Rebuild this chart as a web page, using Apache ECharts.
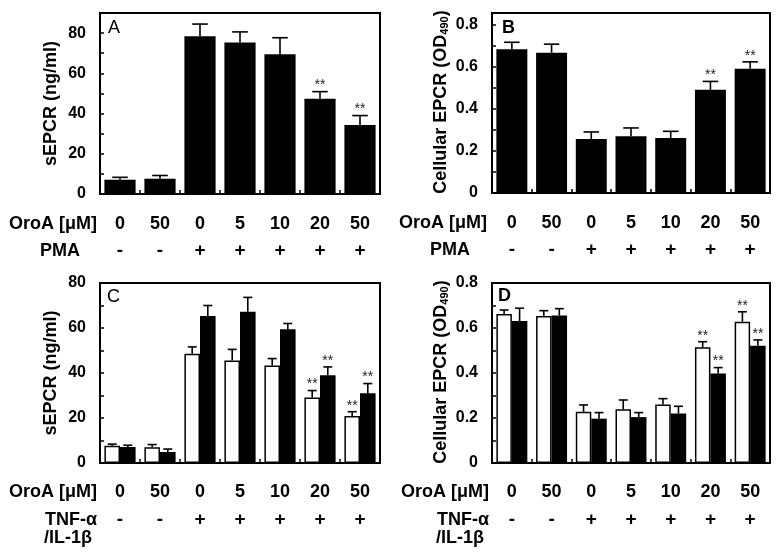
<!DOCTYPE html>
<html>
<head>
<meta charset="utf-8">
<script src="https://cdn.jsdelivr.net/npm/echarts@6/dist/echarts.min.js"></script>
<style>html,body{margin:0;padding:0;background:#fff;}#c{width:783px;height:559px;}</style>
</head>
<body>
<div id="c"></div>
<script>
// ---- data ----
const oroaLabels = ['0', '50', '0', '5', '10', '20', '50'];
const stimLabels = ['-', '-', '+', '+', '+', '+', '+'];

// Panel A: sEPCR (ng/ml), PMA
const aValues = [7.1, 7.6, 78.5, 75.3, 69.5, 47.3, 34.3];
const aErrors = [1.2, 1.6, 6.0, 5.3, 8.2, 3.6, 4.7];
const aSig = ['', '', '', '', '', '**', '**'];

// Panel B: Cellular EPCR (OD490), PMA
const bValues = [0.683, 0.666, 0.256, 0.269, 0.261, 0.490, 0.590];
const bErrors = [0.033, 0.041, 0.034, 0.040, 0.032, 0.040, 0.033];
const bSig = ['', '', '', '', '', '**', '**'];

// Panel C: sEPCR (ng/ml), TNF-α / IL-1β
const cWhite = [7.7, 7.0, 48.6, 45.6, 43.3, 29.1, 20.9];
const cWhiteErr = [0.7, 1.2, 3.0, 4.9, 3.1, 3.1, 1.9];
const cWhiteSig = ['', '', '', '', '', '**', '**'];
const cBlack = [7.1, 4.9, 65.3, 67.2, 59.4, 39.0, 31.0];
const cBlackErr = [0.8, 1.3, 4.7, 6.4, 2.6, 3.7, 4.3];
const cBlackSig = ['', '', '', '', '', '**', '**'];

// Panel D: Cellular EPCR (OD490), TNF-α / IL-1β
const dWhite = [0.662, 0.653, 0.228, 0.239, 0.260, 0.514, 0.628];
const dWhiteErr = [0.018, 0.024, 0.030, 0.041, 0.026, 0.025, 0.044];
const dWhiteSig = ['', '', '', '', '', '**', '**'];
const dBlack = [0.631, 0.656, 0.197, 0.204, 0.220, 0.398, 0.521];
const dBlackErr = [0.057, 0.030, 0.027, 0.020, 0.032, 0.026, 0.026];
const dBlackSig = ['', '', '', '', '', '**', '**'];

// ---- chart ----
const FONT = '"Liberation Sans", Arial, Helvetica, sans-serif';
const grids = [], xAxes = [], yAxes = [], series = [], graphics = [];
const txt = (size, bold) => ({ fontFamily: FONT, fontSize: size, fontWeight: bold ? 'bold' : 'normal', color: '#000' });

function fmtInt(v) { return (Math.abs(v % 20) < 1e-6 && v <= 80) ? String(v) : ''; }
function fmtDec(v) {
  const k = Math.round(v * 10);
  if (Math.abs(v * 10 - k) > 1e-6 || k % 2 !== 0 || k > 8) return '';
  return k === 0 ? '0' : (k / 10).toFixed(1);
}

function makeErr(i, n, sigs) {
  return function (params, api) {
    const k = api.value(0), v = api.value(1), e = api.value(2);
    const base = api.coord([k, v]);
    const cap = api.coord([k, v + e]);
    const band = api.size([1, 0])[0];
    const total = band * 0.78;
    const bw = total / n;
    const cx = base[0] - total / 2 + bw * (i + 0.5);
    const hw = Math.max(4.5, bw * 0.25);
    const st = { stroke: '#000', lineWidth: 1.6 };
    const children = [
      { type: 'line', shape: { x1: cx, y1: base[1], x2: cx, y2: cap[1] }, style: st },
      { type: 'line', shape: { x1: cx - hw, y1: cap[1], x2: cx + hw, y2: cap[1] }, style: st }
    ];
    const s = sigs[params.dataIndex];
    if (s) {
      children.push({ type: 'text', x: cx, y: cap[1] - 6,
        style: { text: s, align: 'center', verticalAlign: 'middle', font: '14px ' + FONT, fill: '#222' } });
    }
    return { type: 'group', children: children };
  };
}

function addPanel(cfg) {
  const g = grids.length;
  grids.push({ left: cfg.rect[0], top: cfg.rect[1], width: cfg.rect[2], height: cfg.rect[3],
    show: true, borderColor: '#000', borderWidth: 2, backgroundColor: 'transparent',
    containLabel: false, outerBoundsMode: 'none' });
  const fx = xAxes.length;
  // frame axis
  xAxes.push({ type: 'category', gridIndex: g, data: oroaLabels, position: 'bottom',
    axisLine: { show: true, onZero: false, lineStyle: { color: '#000', width: 2 } },
    axisTick: { show: true, inside: true, length: 4, interval: 0, lineStyle: { color: '#000', width: 1.5 } },
    axisLabel: { show: false }, splitLine: { show: false } });
  // OroA row
  xAxes.push({ type: 'category', gridIndex: g, data: oroaLabels, position: 'bottom', offset: cfg.row1,
    axisLine: { show: false, onZero: false }, axisTick: { show: false },
    axisLabel: Object.assign({ interval: 0, margin: 0, verticalAlign: 'middle' }, txt(18, true)),
    name: 'OroA [\u03bcM]', nameLocation: 'start', nameGap: cfg.nameGap1, nameMoveOverlap: false,
    nameTextStyle: Object.assign({ align: 'right', verticalAlign: 'middle' }, txt(18, true)) });
  // stimulus row
  const row2 = { type: 'category', gridIndex: g, data: stimLabels, position: 'bottom', offset: cfg.row2,
    axisLine: { show: false, onZero: false }, axisTick: { show: false },
    axisLabel: Object.assign({ interval: 0, margin: 0, verticalAlign: 'middle' }, txt(19, true)) };
  if (cfg.stimName) {
    Object.assign(row2, { name: cfg.stimName, nameLocation: 'start', nameGap: cfg.nameGap2, nameMoveOverlap: false,
      nameTextStyle: Object.assign({ align: 'right', verticalAlign: 'middle' }, txt(18, true)) });
  }
  xAxes.push(row2);
  if (cfg.stimRich) {
    xAxes.push({ type: 'category', gridIndex: g, data: stimLabels, position: 'bottom', offset: cfg.row3,
      axisLine: { show: false, onZero: false }, axisTick: { show: false }, axisLabel: { show: false },
      name: cfg.stimRich, nameLocation: 'start', nameGap: cfg.nameGap2, nameMoveOverlap: false,
      nameTextStyle: Object.assign({ align: 'right', verticalAlign: 'middle', lineHeight: 18,
        rich: { a: Object.assign({ lineHeight: 18 }, txt(18, true)),
                b: Object.assign({ lineHeight: 18, padding: [0, 5, 0, 0] }, txt(18, true)) } }, txt(18, true)) });
  }
  const fy = yAxes.length;
  const yAx = { type: 'value', gridIndex: g, min: 0, max: cfg.yMax, interval: cfg.yInterval, position: 'left',
    axisLine: { show: true, onZero: false, lineStyle: { color: '#000', width: 2 } },
    axisTick: { show: true, inside: true, length: 4, lineStyle: { color: '#000', width: 1.5 } },
    axisLabel: Object.assign({ margin: 14, formatter: cfg.yFmt, showMaxLabel: cfg.showMax, showMinLabel: true, hideOverlap: false }, txt(16, true)),
    splitLine: { show: false } };
  if (cfg.yName) {
    Object.assign(yAx, { name: cfg.yName, nameLocation: 'middle', nameGap: cfg.yNameGap, nameMoveOverlap: false,
      nameTextStyle: txt(18, true) });
  }
  yAxes.push(yAx);
  if (cfg.yTitle) {
    // long rotated title with subscript, drawn as text beside the axis
    graphics.push({ type: 'text', x: cfg.yTitle[0], y: cfg.yTitle[1], rotation: Math.PI / 2,
      style: { text: '{m|Cellular EPCR (OD}{s|490}{m|)}', align: 'center', verticalAlign: 'middle',
        rich: {
          m: { fontFamily: FONT, fontSize: 18, fontWeight: 'bold', fill: '#000' },
          s: { fontFamily: FONT, fontSize: 11, fontWeight: 'bold', fill: '#000', verticalAlign: 'bottom', lineHeight: 16 }
        } } });
  }
  cfg.groups.forEach(function (grp, i) {
    series.push({ type: 'bar', xAxisIndex: fx, yAxisIndex: fy, data: grp.values,
      barCategoryGap: '22%', barGap: '0%', silent: true, animation: false,
      itemStyle: { color: grp.fill, borderColor: '#000', borderWidth: grp.fill === '#fff' ? 1.5 : 0 } });
  });
  cfg.groups.forEach(function (grp, i) {
    series.push({ type: 'custom', xAxisIndex: fx, yAxisIndex: fy, z: 5, silent: true, animation: false,
      data: grp.values.map(function (v, k) { return [k, v, grp.errs[k]]; }),
      encode: { x: 0, y: 1 }, renderItem: makeErr(i, cfg.groups.length, grp.sigs) });
  });
  graphics.push({ type: 'text', x: cfg.letterPos[0], y: cfg.letterPos[1],
    style: { text: cfg.letter, align: 'left', verticalAlign: 'middle',
      font: (cfg.letterBold ? 'bold ' : '') + '18px ' + FONT, fill: '#000' } });
}

addPanel({ rect: [100, 13, 280, 181], yMax: 90, yInterval: 10, yFmt: fmtInt, showMax: false, yName: 'sEPCR (ng/ml)', yNameGap: 40,
  row1: 30, row2: 57, nameGap1: 3, stimName: 'PMA', nameGap2: 20,
  groups: [{ values: aValues, errs: aErrors, sigs: aSig, fill: '#000' }],
  letter: 'A', letterBold: false, letterPos: [108, 28] });
addPanel({ rect: [492, 13, 278, 180], yMax: 0.855, yInterval: 0.1, yFmt: fmtDec, showMax: false, yTitle: [441, 102],
  row1: 30, row2: 57, nameGap1: 5, stimName: 'PMA', nameGap2: 22,
  groups: [{ values: bValues, errs: bErrors, sigs: bSig, fill: '#000' }],
  letter: 'B', letterBold: true, letterPos: [502, 28] });
addPanel({ rect: [100, 283, 280, 180], yMax: 80, yInterval: 10, yFmt: fmtInt, showMax: true, yName: 'sEPCR (ng/ml)', yNameGap: 40,
  row1: 29, row2: 57, row3: 66, nameGap1: 3, nameGap2: 3, stimRich: '{a|TNF-\u03b1}\n{b|/IL-1\u03b2}',
  groups: [{ values: cWhite, errs: cWhiteErr, sigs: cWhiteSig, fill: '#fff' },
           { values: cBlack, errs: cBlackErr, sigs: cBlackSig, fill: '#000' }],
  letter: 'C', letterBold: false, letterPos: [107, 297] });
addPanel({ rect: [492, 283, 278, 180], yMax: 0.8, yInterval: 0.1, yFmt: fmtDec, showMax: true, yTitle: [441, 372],
  row1: 29, row2: 57, row3: 66, nameGap1: 3, nameGap2: 3, stimRich: '{a|TNF-\u03b1}\n{b|/IL-1\u03b2}',
  groups: [{ values: dWhite, errs: dWhiteErr, sigs: dWhiteSig, fill: '#fff' },
           { values: dBlack, errs: dBlackErr, sigs: dBlackSig, fill: '#000' }],
  letter: 'D', letterBold: true, letterPos: [498, 296] });

const chart = echarts.init(document.getElementById('c'), null, { renderer: 'canvas' });
chart.setOption({ animation: false, backgroundColor: '#fff', grid: grids, xAxis: xAxes, yAxis: yAxes, series: series, graphic: graphics });
</script>
</body>
</html>
